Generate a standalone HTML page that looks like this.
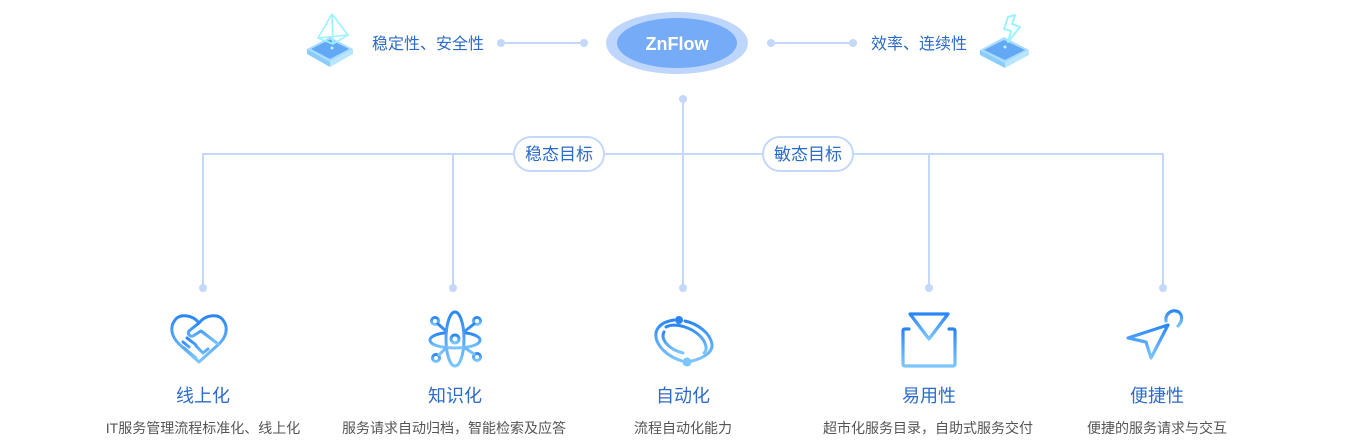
<!DOCTYPE html>
<html><head><meta charset="utf-8"><style>
html,body{margin:0;padding:0;background:#fff;}
svg{display:block;}
text{font-family:"Liberation Sans","Noto Sans CJK SC",sans-serif;}
</style></head><body>
<svg width="1356" height="448" viewBox="0 0 1356 448" xmlns="http://www.w3.org/2000/svg">
<defs>
<linearGradient id="g" x1="0" y1="0" x2="0" y2="1">
<stop offset="0" stop-color="#2b86f5"/><stop offset="1" stop-color="#7cc6ff"/>
</linearGradient>
</defs>

<!-- top connectors -->
<g stroke="#c3d8fb" stroke-width="2" fill="#c3d8fb">
<line x1="501" y1="43" x2="584" y2="43"/>
<circle cx="501" cy="43" r="4" stroke="none"/><circle cx="584" cy="43" r="4" stroke="none"/>
<line x1="771" y1="43" x2="853" y2="43"/>
<circle cx="771" cy="43" r="4" stroke="none"/><circle cx="853" cy="43" r="4" stroke="none"/>
</g>

<!-- ZnFlow -->
<ellipse cx="677" cy="43" rx="71" ry="31" fill="#bed6fc"/>
<ellipse cx="677" cy="43" rx="60" ry="25" fill="#76abf8"/>
<text x="677" y="50" text-anchor="middle" font-size="18" font-weight="bold" fill="#fff">ZnFlow</text>

<!-- top labels -->
<text x="428" y="49" text-anchor="middle" font-size="16" fill="#2c6bc9">稳定性、安全性</text>
<text x="919" y="49" text-anchor="middle" font-size="16" fill="#2c6bc9">效率、连续性</text>

<!-- top-left icon: plate with pyramid -->
<g>
<polygon points="307,49 330,37 353,49 330,62" fill="#a9dcff"/>
<polygon points="307,49 330,62 330,67 307,54" fill="#8cccfb"/>
<polygon points="330,62 353,49 353,54 330,67" fill="#b9e6ff"/>
<polygon points="311,49 330,39.5 349,49 330,59" fill="#63a8f5"/>
<g fill="none" stroke="#9af2ff" stroke-width="1.6" stroke-linejoin="round">
<polyline points="332,14 318,38 333,44 348,35 332,14"/>
<line x1="332" y1="14" x2="333" y2="44"/>
<line x1="318" y1="38" x2="348" y2="35"/>
</g>
<circle cx="332" cy="48" r="1.5" fill="#b8f4ff"/>
</g>

<!-- top-right icon: plate with lightning -->
<g>
<polygon points="980,50 1004,37 1029,50 1005,63" fill="#a9dcff"/>
<polygon points="980,50 1005,63 1005,68 980,55" fill="#8cccfb"/>
<polygon points="1005,63 1029,50 1029,55 1005,68" fill="#b9e6ff"/>
<polygon points="984,50 1004,40 1025,50 1005,60" fill="#63a8f5"/>
<polygon points="1008,17 1015,15 1012,24 1020,27 1008,42 1011,31 1004,29" fill="none" stroke="#9af2ff" stroke-width="2" stroke-linejoin="round"/>
<circle cx="1005" cy="47" r="1.5" fill="#b8f4ff"/>
</g>

<!-- tree lines -->
<g stroke="#c3d8fb" stroke-width="2" fill="none">
<line x1="683" y1="99" x2="683" y2="288"/>
<polyline points="203,288 203,154 1163,154 1163,288"/>
<line x1="453" y1="154" x2="453" y2="288"/>
<line x1="929" y1="154" x2="929" y2="288"/>
</g>
<g fill="#c3d8fb">
<circle cx="683" cy="99" r="4"/>
<circle cx="203" cy="288" r="4"/><circle cx="453" cy="288" r="4"/>
<circle cx="683" cy="288" r="4"/><circle cx="929" cy="288" r="4"/><circle cx="1163" cy="288" r="4"/>
</g>

<!-- pills -->
<rect x="514" y="137" width="90" height="34" rx="17" fill="#fff" stroke="#c3d8fb" stroke-width="2"/>
<text x="559" y="160" text-anchor="middle" font-size="17" fill="#2c6bc9">稳态目标</text>
<rect x="763" y="137" width="90" height="34" rx="17" fill="#fff" stroke="#c3d8fb" stroke-width="2"/>
<text x="808" y="160" text-anchor="middle" font-size="17" fill="#2c6bc9">敏态目标</text>

<!-- icon 1: heart handshake -->
<g fill="none" stroke="url(#g)" stroke-width="3" stroke-linecap="round" stroke-linejoin="round">
<path d="M199,323 C193,315 180,313 175,320 C169,328 172,337 179,344 L199,362 L219,344 C226,337 229,328 223,320 C218,313 205,315 199,323"/>
<path d="M199,323 L189,331 C187,334 190,337 193,336 L201,331 L218,344"/>
<path d="M183,342 L189,347 M187,338 L196,345 M184,348 L191,354 M190,353 L196,358 M196,346 L203,353 M203,353 L208,349"/>
</g>

<!-- icon 2: atom -->
<g fill="none" stroke="url(#g)" stroke-width="3" stroke-linecap="round">
<ellipse cx="455" cy="339" rx="9" ry="27"/>
<circle cx="455" cy="339" r="4"/>
<path d="M444,333 C436,334 430,337 430,340 C430,345 441,348 455,348 C469,348 480,345 480,340 C480,337 474,334 466,333"/>
<circle cx="435" cy="321" r="3.5"/><circle cx="477" cy="321" r="3.5"/>
<circle cx="436" cy="358" r="3.5"/><circle cx="477" cy="357" r="3.5"/>
<path d="M438,324 L446,331 M474,324 L465,331 M439,355 L446,348 M474,354 L465,348"/>
</g>

<!-- icon 3: auto rings -->
<g fill="none" stroke="url(#g)" stroke-width="3" stroke-linecap="round">
<path d="M674,320 C660,322 653,330 657,341 C661,351 672,358 682,361"/>
<path d="M685,321 C698,324 710,333 712,344 C713,352 704,358 692,361"/>
<path d="M666,327 C676,322 692,328 700,336 C706,342 708,350 704,353"/>
<path d="M664,332 C660,340 670,350 683,353"/>
</g>
<circle cx="679" cy="320" r="4" fill="#2b86f5"/>
<circle cx="687" cy="362" r="4.5" fill="#7cc6ff"/>

<!-- icon 4: box -->
<g fill="none" stroke="url(#g)" stroke-width="3.2" stroke-linecap="round" stroke-linejoin="round">
<path d="M909,329 L905,329 Q903,329 903,331 L903,364 Q903,366 905,366 L953,366 Q955,366 955,364 L955,331 Q955,329 953,329 L949,329"/>
<path d="M910,314 L948,314 L929,339 Z"/>
<line x1="917" y1="355" x2="941" y2="355"/>
</g>

<!-- icon 5: paper plane -->
<g fill="none" stroke="url(#g)" stroke-width="3.2" stroke-linecap="round" stroke-linejoin="round">
<path d="M1128,338 L1168,325 L1151,358 L1146,342 Z"/>
<path d="M1166,321 C1165,314 1171,310 1176,311 C1182,312 1184,320 1178,326"/>
</g>

<!-- titles -->
<g font-size="18" fill="#2c6bc9" text-anchor="middle">
<text x="203" y="402">线上化</text>
<text x="455" y="402">知识化</text>
<text x="683" y="402">自动化</text>
<text x="929" y="402">易用性</text>
<text x="1157" y="402">便捷性</text>
</g>
<g font-size="14" fill="#555" text-anchor="middle">
<text x="203" y="433">IT服务管理流程标准化、线上化</text>
<text x="454" y="433">服务请求自动归档，智能检索及应答</text>
<text x="683" y="433">流程自动化能力</text>
<text x="928" y="433">超市化服务目录，自助式服务交付</text>
<text x="1157" y="433">便捷的服务请求与交互</text>
</g>
</svg>
</body></html>
